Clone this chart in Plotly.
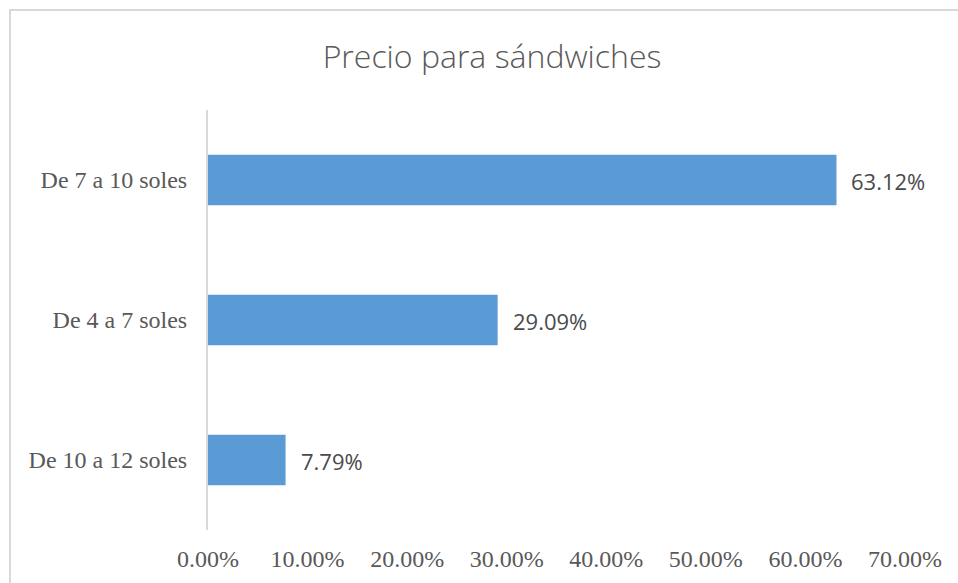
import plotly.graph_objects as go

# Survey results: preferred price range for sandwiches
categorias = ["De 10 a 12 soles", "De 4 a 7 soles", "De 7 a 10 soles"]
porcentajes = [0.0779, 0.2909, 0.6312]
etiquetas = ["7.79%", "29.09%", "63.12%"]
ticks_x = [0, 0.1, 0.2, 0.3, 0.4, 0.5, 0.6, 0.7]
ticks_x_texto = ["0.00%", "10.00%", "20.00%", "30.00%", "40.00%", "50.00%", "60.00%", "70.00%"]

W, H = 958, 583
L, R, T, B = 208, 53, 110, 53
plot_w = W - L - R
plot_h = H - T - B


def px_to_paper_x(px):
    return (px - L) / plot_w


def px_to_paper_y(py):
    return (H - B - py) / plot_h


fig = go.Figure()
fig.add_trace(go.Bar(
    x=porcentajes,
    y=categorias,
    orientation="h",
    marker=dict(color="#5B9BD5", line=dict(width=0)),
    width=0.36,
    hoverinfo="skip",
))

# value labels just to the right of each bar
for cat, val, txt in zip(categorias, porcentajes, etiquetas):
    fig.add_annotation(
        x=val, y=cat, text=txt, showarrow=False,
        xanchor="left", yanchor="middle", xshift=13, yshift=-1,
        font=dict(family="Open Sans", size=22, color="#4a4a4a"),
    )

# chart frame
fig.add_shape(
    type="rect", xref="paper", yref="paper",
    x0=px_to_paper_x(10), x1=px_to_paper_x(970),
    y0=px_to_paper_y(600), y1=px_to_paper_y(10),
    line=dict(color="#d9d9d9", width=2), fillcolor="rgba(0,0,0,0)",
    layer="below",
)

fig.update_layout(
    width=W, height=H,
    margin=dict(l=L, r=R, t=T, b=B, autoexpand=False),
    paper_bgcolor="white", plot_bgcolor="white",
    showlegend=False,
    title=dict(
        text="Precio para sándwiches",
        x=px_to_paper_x(492), xref="paper", xanchor="center",
        y=1 - 57 / H, yref="container", yanchor="middle",
        font=dict(family="Open Sans", size=32, color="#595959", weight=300),
    ),
    xaxis=dict(
        range=[0, 0.7], tickvals=ticks_x, ticktext=ticks_x_texto,
        showgrid=False, zeroline=False, showline=False, ticks="",
        tickfont=dict(family="Liberation Serif", size=24, color="#595959"),
        ticklabelstandoff=12, automargin=False, fixedrange=True,
    ),
    yaxis=dict(
        categoryorder="array", categoryarray=categorias,
        showgrid=False, zeroline=False,
        showline=True, linecolor="#d9d9d9", linewidth=2,
        ticks="", ticklabelstandoff=14,
        tickfont=dict(family="Liberation Serif", size=24, color="#595959"),
        automargin=False, fixedrange=True,
    ),
    bargap=0.64,
)

fig.write_html("out.html")
